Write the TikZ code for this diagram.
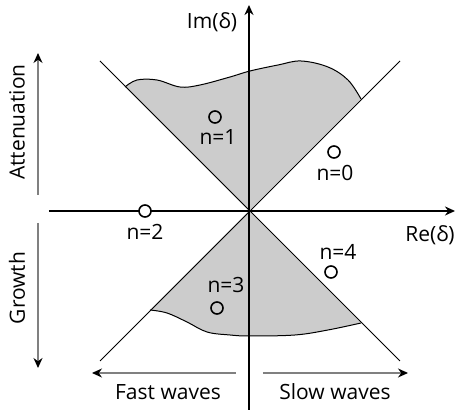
\documentclass[tikz,border=0pt]{standalone}
\usepackage{fontspec}
\setmainfont{Open Sans}
\usetikzlibrary{arrows.meta}

\begin{document}
\begin{tikzpicture}[
  x=0.5pt, y=0.5pt,
  axis/.style={line width=1pt, -{Stealth[length=5pt, width=4.5pt]}},
  cone/.style={line width=0.5pt},
  region/.style={fill=gray!40},
  edge/.style={line width=0.5pt},
  mode/.style={circle, draw=black, line width=0.8pt, fill=none, inner sep=0pt, minimum size=6pt},
  txt/.style={font=\fontsize{10.5}{12}\selectfont, inner sep=0pt},
  side/.style={draw=gray, line width=0.6pt, -{Stealth[length=5pt, width=4.5pt, color=black]}}
]
\useasboundingbox (-249,-205) rectangle (208,211);

% Axes and cone ends
\coordinate (o) at (0,0);
\coordinate (xl) at (-200,0);
\coordinate (xr) at (206,0);
\coordinate (yb) at (0,-199);
\coordinate (yt) at (0,206);
\coordinate (ul) at (-149,150);
\coordinate (ur) at (151,150);
\coordinate (ll) at (-149,-150);
\coordinate (lr) at (151,-150);

% Shaded regions
\fill[region] (o) -- plot[smooth, tension=0.6] coordinates {(-124,124) (-112,131) (-92,131) (-69,124) (-49,126) (-19,134) (1,140) (29,146) (52,150) (79,144) (99,131) (112,112)} -- cycle;
\draw[edge] plot[smooth, tension=0.6] coordinates {(-124,124) (-112,131) (-92,131) (-69,124) (-49,126) (-19,134) (1,140) (29,146) (52,150) (79,144) (99,131) (112,112)};
\fill[region] (o) -- plot[smooth, tension=0.6] coordinates {(-99,-99) (-82,-102) (-62,-111) (-42,-121) (-19,-124) (1,-125) (46,-124) (79,-119) (112,-112)} -- cycle;
\draw[edge] plot[smooth, tension=0.6] coordinates {(-99,-99) (-82,-102) (-62,-111) (-42,-121) (-19,-124) (1,-125) (46,-124) (79,-119) (112,-112)};

% Cone lines
\draw[cone] (ul) -- (lr);
\draw[cone] (ll) -- (ur);

% Axes
\draw[axis] (xl) -- (xr);
\draw[axis] (yb) -- (yt);
\node[txt] (im) at (-37,189) {Im(δ)};
\node[txt] (re) at (181,-24) {Re(δ)};

% Modes
\node[mode] (n1) at (-34,94) {};
\node[txt] (l1) at (-31,74) {n=1};
\node[mode] (n0) at (85,59) {};
\node[txt] (l0) at (86,38) {n=0};
\node[mode, fill=white] (n2) at (-104,0) {};
\node[txt] (l2) at (-104,-21) {n=2};
\node[mode] (n3) at (-32,-97) {};
\node[txt] (l3) at (-23,-74) {n=3};
\node[mode] (n4) at (82,-61) {};
\node[txt] (l4) at (89,-41) {n=4};

% Side arrows
\coordinate (att0) at (-211,16);
\coordinate (att1) at (-211,158);
\coordinate (gro0) at (-211,-12);
\coordinate (gro1) at (-211,-157);
\coordinate (fast0) at (-13,-162);
\coordinate (fast1) at (-157,-162);
\coordinate (slow0) at (14,-162);
\coordinate (slow1) at (159,-162);
\draw[side] (att0) -- (att1);
\draw[side] (gro0) -- (gro1);
\draw[side] (fast0) -- (fast1);
\draw[side] (slow0) -- (slow1);
\node[txt, rotate=90] (att) at (-232,89) {Attenuation};
\node[txt, rotate=90] (gro) at (-232,-77) {Growth};
\node[txt] (fast) at (-81,-181) {Fast waves};
\node[txt] (slow) at (86,-181) {Slow waves};
\end{tikzpicture}
\end{document}
